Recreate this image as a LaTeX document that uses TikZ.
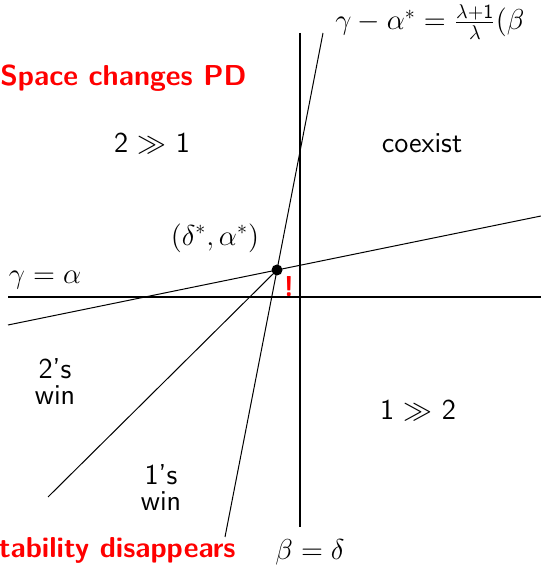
\documentclass[tikz,border=0pt]{standalone}
\usepackage{amssymb}
\begin{document}
\begin{tikzpicture}[x=0.5pt, y=0.5pt, font=\Large\sffamily]
    \useasboundingbox (0,0) rectangle (541,568);
    \tikzset{axis/.style={line width=1pt}, border/.style={line width=0.5pt},
        region/.style={align=center, inner sep=1pt}, warn/.style={red, font=\Large\sffamily\bfseries, inner sep=0pt}}
    % axes
    \coordinate (vtop) at (300,535);
    \coordinate (vbot) at (300,41);
    \coordinate (hleft) at (8,271);
    \coordinate (hright) at (541,271);
    \draw[axis] (vtop) -- (vbot);
    \draw[axis] (hleft) -- (hright);
    % boundaries through the point (delta*, alpha*)
    \node[circle, fill=black, inner sep=0pt, minimum size=5.5pt] (eq) at (277,298) {};
    \coordinate (gleft) at (8,243);
    \coordinate (gright) at (541,352);
    \coordinate (stop) at (323,535);
    \coordinate (sbot) at (225,31);
    \coordinate (dbot) at (48,71);
    \draw[border] (gleft) -- (eq.center) -- (gright);
    \draw[border] (stop) -- (eq.center) -- (sbot);
    \draw[border] (eq.center) -- (dbot);
    % labels
    \node (eqlab) at (215,330) {$(\delta^*,\alpha^*)$};
    \node[warn] (bang) at (289,281) {!};
    \node (diag) at (45,288) {$\gamma=\alpha$};
    \node[anchor=west, inner sep=0pt] (steep) at (335,546) {$\gamma-\alpha^*=\frac{\lambda+\mathsf{1}}{\lambda}(\beta$};
    \node (vlab) at (310,16) {$\beta=\delta$};
    \node[region] (twoone) at (152,425) {2 $\gg$ 1};
    \node[region] (coex) at (422,425) {coexist};
    \node[region] (twowin) at (55,186) {2's\\[-5pt]win};
    \node[region] (onetwo) at (418,158) {1 $\gg$ 2};
    \node[region] (onewin) at (161,80) {1's\\[-5pt]win};
    \node[warn, anchor=west] (space) at (0,490) {Space changes PD};
    \node[warn, anchor=east] (stab) at (236,18) {tability disappears};
\end{tikzpicture}
\end{document}
